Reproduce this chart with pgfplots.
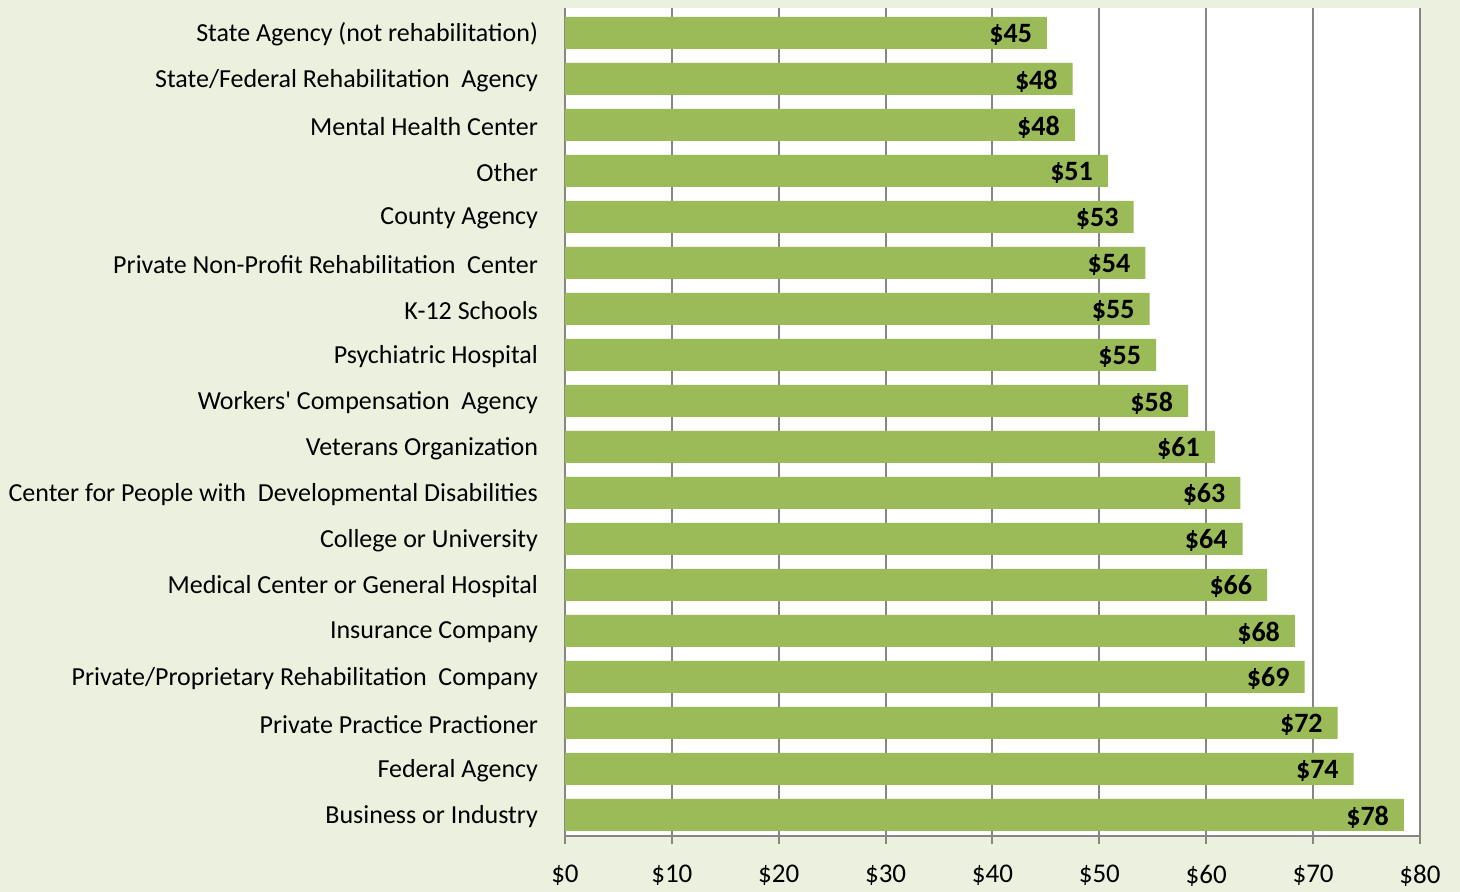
\documentclass[border=0pt]{standalone}
\usepackage{pgfplots}
\pgfplotsset{compat=1.18}
\usepackage{fontspec}
\setmainfont{Carlito}
\newfontfamily\calib{Carlito}
\definecolor{bgcol}{HTML}{EBF1DE}
\definecolor{barcol}{HTML}{9BBB59}
\definecolor{gridcol}{HTML}{868686}
\begin{document}
\begin{tikzpicture}
\fill[bgcol] (-282.5pt,-28pt) rectangle (447.5pt,418pt);
\begin{axis}[
  at={(0,0)}, anchor=south west,
  scale only axis,
  width=427.5pt, height=414pt,
  xbar, bar width=16pt,
  xmin=0, xmax=80,
  ymin=-0.54, ymax=17.46,
  y dir=reverse,
  axis background/.style={fill=white},
  axis x line=bottom, axis y line=left,
  axis line style={gridcol, line width=1pt, -},
  xtick={0,10,...,80},
  xticklabels={\$0,\$10,\$20,\$30,\$40,\$50,\$60,\$70,\$80},
  xmajorgrids, major grid style={gridcol, line width=1pt},
  tick style={gridcol, line width=1pt},
  major tick length=4pt,
  xtick align=outside,
  ytick={0,...,17},
  yticklabels={State Agency (not rehabilitation),State/Federal Rehabilitation\ \ Agency,Mental Health Center,Other,County Agency,Private Non-Profit Rehabilitation\ \ Center,K-12 Schools,Psychiatric Hospital,Workers' Compensation\ \ Agency,Veterans Organization,Center for People with\ \ Developmental Disabilities,College or University,Medical Center or General Hospital,Insurance Company,Private/Proprietary Rehabilitation\ \ Company,Private Practice Practioner,Federal Agency,Business or Industry},
  ytick style={draw=none},
  minor ytick={-0.5,0.5,...,17.5},
  minor tick length=3pt,
  minor tick style={gridcol, line width=1pt},
  ytick align=outside,
  ticklabel style={font=\calib\fontsize{13}{15}\selectfont, text=black},
  yticklabel style={xshift=-6pt, yshift=-0.8pt},
  xticklabel style={font=\calib\fontsize{13.5}{16}\selectfont, yshift=-7pt},
  point meta=explicit symbolic,
  nodes near coords={\$\pgfplotspointmeta},
  nodes near coords style={anchor=east, xshift=-4pt, yshift=-1pt, font=\fontsize{14}{16}\selectfont\bfseries, text=black},
]
\addplot[fill=barcol, draw=none] coordinates {
  (45.1,0) [45]
  (47.5,1) [48]
  (47.7,2) [48]
  (50.8,3) [51]
  (53.2,4) [53]
  (54.3,5) [54]
  (54.7,6) [55]
  (55.3,7) [55]
  (58.3,8) [58]
  (60.8,9) [61]
  (63.2,10) [63]
  (63.4,11) [64]
  (65.7,12) [66]
  (68.3,13) [68]
  (69.2,14) [69]
  (72.3,15) [72]
  (73.8,16) [74]
  (78.5,17) [78]
};
\end{axis}
\pgfresetboundingbox
\useasboundingbox (-282.5pt,-28pt) rectangle (447.5pt,418pt);
\end{tikzpicture}
\end{document}
